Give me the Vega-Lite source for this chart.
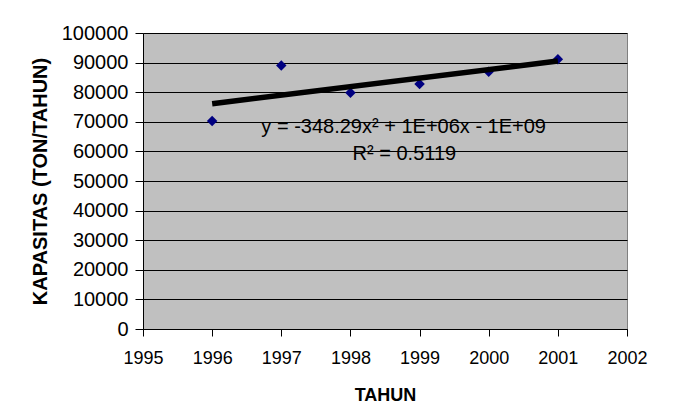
{
  "$schema": "https://vega.github.io/schema/vega-lite/v6.json",
  "width": 484,
  "height": 296,
  "autosize": {"type": "none"},
  "padding": {"left": 143, "top": 33, "right": 69, "bottom": 89},
  "background": "white",
  "config": {
    "view": {"fill": "#C0C0C0", "stroke": "#808080", "strokeWidth": 1},
    "font": "Liberation Sans",
    "axis": {
      "labelFont": "Liberation Sans",
      "labelColor": "black",
      "titleFont": "Liberation Sans",
      "titleFontWeight": "bold",
      "titleColor": "black",
      "domainColor": "black",
      "tickColor": "black",
      "gridColor": "black",
      "gridOpacity": 1,
      "gridWidth": 1
    }
  },
  "datasets": {
    "kapasitas": [
      {"TAHUN": 1996, "KAPASITAS": 70300},
      {"TAHUN": 1997, "KAPASITAS": 89000},
      {"TAHUN": 1998, "KAPASITAS": 79800},
      {"TAHUN": 1999, "KAPASITAS": 82800},
      {"TAHUN": 2000, "KAPASITAS": 86900},
      {"TAHUN": 2001, "KAPASITAS": 91100}
    ],
    "label": [
      {"TAHUN": 1998.77, "KAPASITAS": 68200, "text": "y = -348.29x² + 1E+06x  -  1E+09"},
      {"TAHUN": 1998.78, "KAPASITAS": 59100, "text": "R² = 0.5119"}
    ]
  },
  "encoding": {
    "x": {
      "field": "TAHUN",
      "type": "quantitative",
      "scale": {"domain": [1995, 2002], "nice": false, "zero": false},
      "axis": {
        "title": "TAHUN",
        "titleFontSize": 18,
        "titlePadding": 19,
        "labelFontSize": 18,
        "values": [1995, 1996, 1997, 1998, 1999, 2000, 2001, 2002],
        "format": "d",
        "grid": false,
        "tickSize": 7,
        "labelPadding": 13,
        "labelFlush": false,
        "labelOverlap": false
      }
    },
    "y": {
      "field": "KAPASITAS",
      "type": "quantitative",
      "scale": {"domain": [0, 100000], "nice": false},
      "axis": {
        "title": "KAPASITAS (TON/TAHUN)",
        "titleFontSize": 20,
        "titlePadding": 11,
        "labelFontSize": 20,
        "values": [0, 10000, 20000, 30000, 40000, 50000, 60000, 70000, 80000, 90000, 100000],
        "format": "d",
        "grid": true,
        "tickSize": 8,
        "labelPadding": 7,
        "labelOverlap": false
      }
    }
  },
  "layer": [
    {
      "data": {"name": "kapasitas"},
      "mark": {"type": "point", "shape": "diamond", "filled": true, "color": "#000080", "size": 110, "opacity": 1}
    },
    {
      "data": {"name": "kapasitas"},
      "transform": [
        {"regression": "KAPASITAS", "on": "TAHUN", "method": "linear"}
      ],
      "mark": {"type": "line", "color": "black", "strokeWidth": 5.5}
    },
    {
      "data": {"name": "label"},
      "mark": {"type": "text", "fontSize": 20, "color": "black", "align": "center", "baseline": "middle", "font": "Liberation Sans"},
      "encoding": {"text": {"field": "text"}}
    }
  ]
}
